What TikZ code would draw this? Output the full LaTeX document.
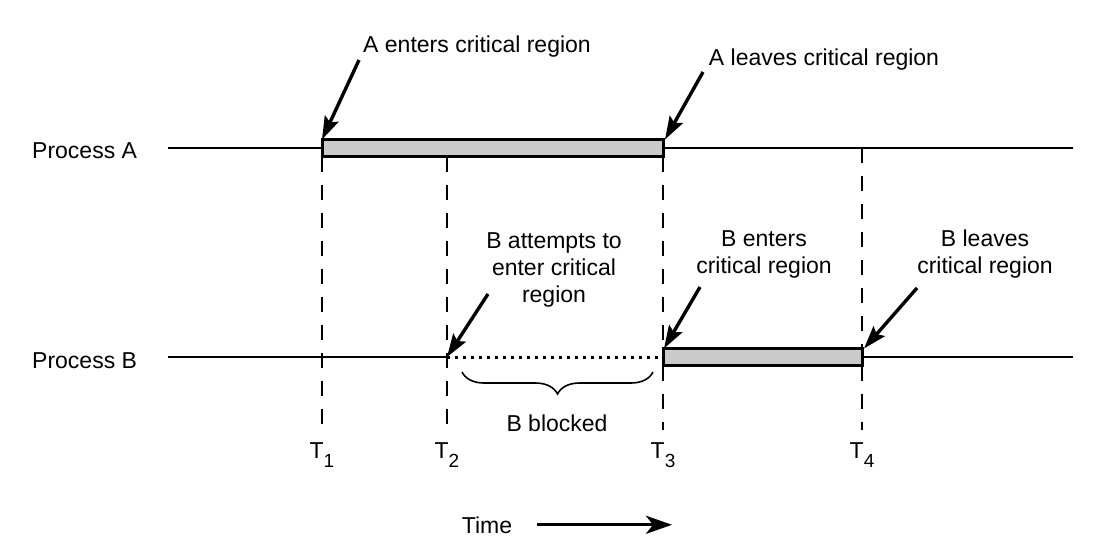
\documentclass[tikz,border=0pt]{standalone}
\usepackage{fontspec}
\setmainfont{Liberation Sans}
\usetikzlibrary{arrows.meta,calc,positioning,decorations.pathreplacing}
\definecolor{CritGray}{HTML}{CACACA}
\newcommand{\tsub}[1]{\raisebox{-9pt}{\fontsize{19}{19}\selectfont #1}}

\begin{document}
\begin{tikzpicture}[
  x=1pt, y=-1pt,
  font=\fontsize{23}{27}\selectfont,
  timeline/.style={line width=2.4pt},
  crit/.style={draw,line width=3pt,fill=CritGray,minimum height=17pt,inner sep=0pt,outer sep=0pt,anchor=west},
  tline/.style={line width=2.6pt,dash pattern=on 15pt off 13pt},
  blocked/.style={line width=3pt,dash pattern=on 3pt off 5pt},
  ptr/.style={-{Stealth[length=23pt,width=15pt,inset=4pt]},line width=3.4pt},
  timearr/.style={-{Stealth[length=26pt,width=18pt,inset=7pt]},line width=3.4pt},
  lbl/.style={anchor=base,align=center,inner sep=0pt}
]
\useasboundingbox (0,0) rectangle (1115,555);

% process lines and critical regions
\node[lbl,anchor=base west] (procA) at (32,158) {Process A};
\node[lbl,anchor=base west] (procB) at (32,368) {Process B};
\coordinate (aStart) at (168,148);
\coordinate (aEnd) at (1073,148);
\coordinate (bStart) at (168,357);
\coordinate (bEnd) at (1073,357);
\coordinate (bTry) at (447,357);
\node[crit,minimum width=341pt] (critA) at (322,148) {};
\node[crit,minimum width=199pt] (critB) at (663,357) {};
\draw[timeline] (aStart) -- (critA);
\draw[timeline] (critA) -- (aEnd);
\draw[timeline] (bStart) -- (bTry);
\draw[blocked] (bTry) -- (critB.west);
\draw[timeline] (critB) -- (bEnd);

% time marks
\node[lbl] (T1) at (322,458) {T\tsub{1}};
\node[lbl] (T2) at (447,458) {T\tsub{2}};
\node[lbl] (T3) at (663,458) {T\tsub{3}};
\node[lbl] (T4) at (862,458) {T\tsub{4}};
\draw[tline,shorten >=12pt] (critA.south west) -- (T1.north);
\draw[tline,shorten >=12pt] (T2 |- critA.south) -- (T2.north);
\draw[tline] (critA.south east) -- (critB.north west);
\draw[tline,shorten >=12pt] (critB.south west) -- (T3.north);
\draw[tline] (T4 |- aEnd) -- (critB.north east);
\draw[tline,shorten >=12pt] (critB.south east) -- (T4.north);

% labels and pointers
\node[lbl] (aEnter) at (477,52) {A enters critical region};
\node[lbl] (aLeave) at (824,65) {A leaves critical region};
\node[lbl] (bAttempt) at (554,302) {B attempts to\\enter critical\\region};
\node[lbl] (bEnter) at (764,273) {B enters\\critical region};
\node[lbl] (bLeave) at (985,273) {B leaves\\critical region};
\coordinate (aEnterTail) at (359,60);
\coordinate (aLeaveTail) at (703,72);
\coordinate (bAttemptTail) at (488,294);
\coordinate (bEnterTail) at (700,287);
\coordinate (bLeaveTail) at (917,288);
\draw[ptr] (aEnterTail) -- (critA.north west);
\draw[ptr] (aLeaveTail) -- ([xshift=2pt]critA.north east);
\draw[ptr] (bAttemptTail) -- (bTry);
\draw[ptr] (bEnterTail) -- ([xshift=1pt]critB.north west);
\draw[ptr] (bLeaveTail) -- ([xshift=2pt]critB.north east);

% blocked interval
\coordinate (blkL) at (462,372);
\coordinate (blkR) at (653,372);
\draw[decorate,decoration={brace,mirror,amplitude=22pt},line width=1.6pt] (blkL) -- (blkR);
\node[lbl] (bBlocked) at (557,431) {B blocked};

% time axis
\node[lbl] (time) at (487,533) {Time};
\coordinate (timeTip) at (672,524);
\draw[timearr] ([xshift=25pt]time.east) -- (timeTip |- time.east);
\end{tikzpicture}
\end{document}
